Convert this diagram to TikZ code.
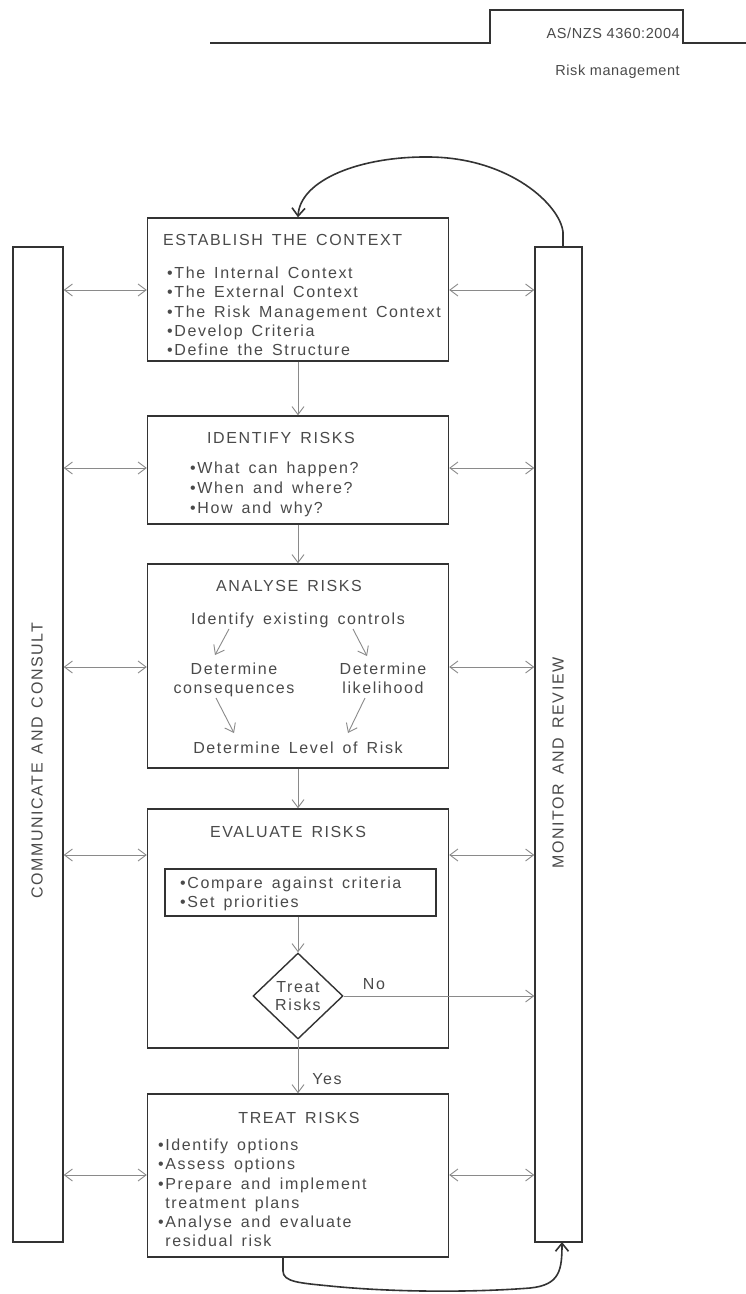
\documentclass[tikz,border=0pt]{standalone}
\usepackage{fontspec}
\setmainfont{Liberation Sans}
\newfontfamily\dfont[LetterSpace=10,WordSpace=1.5]{Liberation Sans}
\newfontfamily\hfont[LetterSpace=4]{Liberation Sans}
\usetikzlibrary{arrows.meta,shapes.geometric}
\definecolor{boxline}{HTML}{333333}
\definecolor{txtc}{HTML}{4A4A4A}
\definecolor{arrc}{HTML}{8A8A8A}
\begin{document}
\begin{tikzpicture}[x=1pt,y=-1pt,
  box/.style={draw=boxline, line width=1.4pt, inner sep=0pt},
  lbl/.style={inner sep=0pt, text=txtc, font=\dfont\fontsize{16}{19.25}\selectfont},
  hlbl/.style={inner sep=0pt, text=txtc, font=\hfont\fontsize{14.5}{17}\selectfont},
  garrow/.style={draw=arrc, line width=0.9pt, -{Straight Barb[length=8pt,width=12pt]}},
  darrow/.style={draw=arrc, line width=0.9pt, {Straight Barb[length=8pt,width=12pt]}-{Straight Barb[length=8pt,width=12pt]}},
  karrow/.style={draw=boxline, line width=1.6pt, -{Straight Barb[length=8pt,width=13pt]}},
]
\fill[white] (0,0) rectangle (746,1294);
\useasboundingbox (0,0) rectangle (746,1294);

% header
\draw[boxline, line width=1.2pt] (210,43) -- (490,43) -- (490,10) -- (683,10) -- (683,43) -- (746,43);
\node[hlbl, anchor=base east] (std) at (680,38) {AS/NZS 4360:2004};
\node[hlbl, anchor=base east] (rm) at (680,75) {Risk management};

% side boxes
\node[box, minimum width=50pt, minimum height=995pt] (comm) at (38,744.5) {};
\node[box, minimum width=47pt, minimum height=995pt] (mon) at (558.5,744.5) {};
\node[lbl, rotate=90] (commT) at (37,761) {COMMUNICATE AND CONSULT};
\node[lbl, rotate=90] (monT) at (558,763) {MONITOR AND REVIEW};

% main boxes
\node[box, minimum width=301pt, minimum height=143pt] (est) at (298,289.5) {};
\node[box, minimum width=301pt, minimum height=108pt] (ident) at (298,470) {};
\node[box, minimum width=301pt, minimum height=204pt] (anal) at (298,666) {};
\node[box, minimum width=301pt, minimum height=239pt] (eval) at (298,928.5) {};
\node[box, minimum width=301pt, minimum height=163pt] (treat) at (298,1175.5) {};

% establish
\node[lbl, anchor=base west] (estT) at (163,245.8) {ESTABLISH THE CONTEXT};
\node[lbl, anchor=base west] (estL) at (167,278.5) {\begin{tabular}[t]{@{}l@{}}•The Internal Context\\ •The External Context\\ •The Risk Management Context\\ •Develop Criteria\\ •Define the Structure\end{tabular}};

% identify
\node[lbl, anchor=base west] (idT) at (207,443) {IDENTIFY RISKS};
\node[lbl, anchor=base west, font=\dfont\fontsize{16}{19.8}\selectfont] (idL) at (190,473.5) {\begin{tabular}[t]{@{}l@{}}•What can happen?\\ •When and where?\\ •How and why?\end{tabular}};

% analyse
\node[lbl, anchor=base] (anT) at (289,591) {ANALYSE RISKS};
\node[lbl, anchor=base] (ctrl) at (298,624) {Identify existing controls};
\node[lbl, anchor=base] (cons) at (234,674) {\begin{tabular}[t]{@{}c@{}}Determine\\ consequences\end{tabular}};
\node[lbl, anchor=base] (like) at (383,674) {\begin{tabular}[t]{@{}c@{}}Determine\\ likelihood\end{tabular}};
\node[lbl, anchor=base] (level) at (298,753) {Determine Level of Risk};
\coordinate (a1s) at (229,629);
\coordinate (a1e) at (215,655);
\coordinate (a2s) at (353,629);
\coordinate (a2e) at (367,656);
\coordinate (a3s) at (216,698);
\coordinate (a3e) at (234,733);
\coordinate (a4s) at (365,698);
\coordinate (a4e) at (348,733);
\draw[garrow] (a1s) -- (a1e);
\draw[garrow] (a2s) -- (a2e);
\draw[garrow] (a3s) -- (a3e);
\draw[garrow] (a4s) -- (a4e);

% evaluate
\node[lbl, anchor=base] (evT) at (288,837) {EVALUATE RISKS};
\node[box, minimum width=271pt, minimum height=47pt] (crit) at (300.5,892.5) {};
\node[lbl, anchor=base west] (critL) at (180,888.5) {\begin{tabular}[t]{@{}l@{}}•Compare against criteria\\ •Set priorities\end{tabular}};
\node[draw=boxline, line width=1.4pt, diamond, minimum width=90pt, minimum height=86pt, inner sep=0pt,
      text=txtc, font=\dfont\fontsize{16}{18}\selectfont, align=center] (dia) at (298,996) {Treat\\Risks};
\node[lbl, anchor=base] (no) at (374,989) {No};
\node[lbl, anchor=base] (yes) at (327,1084) {Yes};

% treat
\node[lbl, anchor=base] (trT) at (299,1123) {TREAT RISKS};
\node[lbl, anchor=base west] (trL) at (158,1150.5) {\begin{tabular}[t]{@{}l@{}}•Identify options\\ •Assess options\\ •Prepare and implement\\ \hphantom{•}\hspace{1.6pt}treatment plans\\ •Analyse and evaluate\\ \hphantom{•}\hspace{1.6pt}residual risk\end{tabular}};

% flow arrows
\draw[garrow] (est.south) -- (ident.north);
\draw[garrow] (ident.south) -- (anal.north);
\draw[garrow] (anal.south) -- (eval.north);
\draw[garrow] (dia.north |- crit.south) -- (dia.north);
\draw[garrow] (dia.east) -- (mon.west |- dia.east);
\draw[garrow] (dia.south) -- (treat.north);

% side double arrows
\foreach \b/\yy in {est/290, ident/468, anal/667, eval/855, treat/1175} {
  \draw[darrow] (comm.east |- 0,\yy) -- (\b.west |- 0,\yy);
  \draw[darrow] (\b.east |- 0,\yy) -- (mon.west |- 0,\yy);
}

% feedback curves
\coordinate (mtop) at (563,247);
\coordinate (tbot) at (283,1257);
\coordinate (mbot) at (562,1242);
\draw[karrow] (mtop) -- ++(0,-15) .. controls (560,205) and (510,158) .. (430,157) .. controls (360,156) and (300,180) .. (est.north);
\draw[karrow] (tbot) -- ++(0,14) .. controls (283,1282) and (300,1283) .. (330,1286) .. controls (400,1293) and (480,1292) .. (530,1288) .. controls (560,1285) and (562,1270) .. (mbot);
\end{tikzpicture}
\end{document}
